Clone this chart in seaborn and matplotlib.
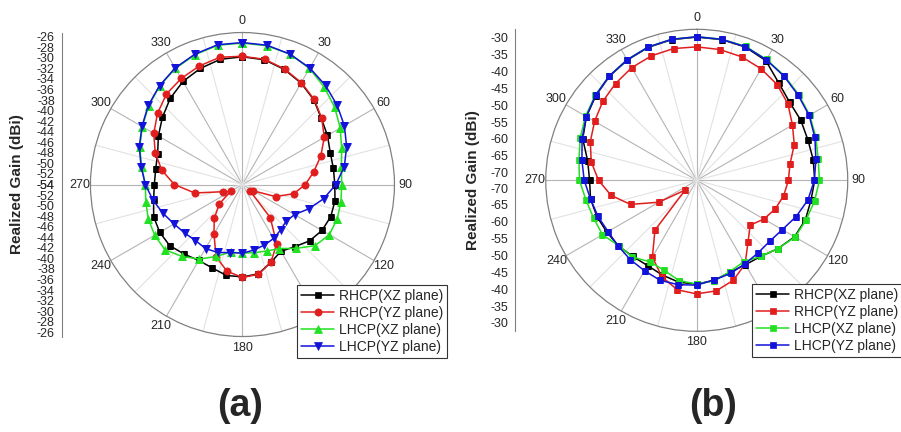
# polar gain patterns, two panels (a) and (b)

import numpy as np
import pandas as pd
import seaborn as sns
import matplotlib.pyplot as plt

# angles in degrees, 10 deg steps
ang = list(range(0, 360, 10))

# ---- panel (a) values (dBi) ----
a_rhcp_xz = [-29.8, -30.0, -30.8, -31.8, -33.0, -34.5, -35.4, -36.3, -36.5, -36.5,
             -36.2, -36.2, -36.6, -37.4, -38.6, -39.4, -38.3, -36.8, -36.5, -36.5,
             -37.2, -37.4, -36.8, -36.0, -35.9, -36.1, -36.9, -37.3, -37.3, -36.9,
             -35.6, -34.2, -32.7, -31.45, -30.6, -29.9]
a_rhcp_yz = [-29.7, -29.9, -30.7, -31.7, -32.9, -34.4, -36.1, -38.2, -40.3, -42.1,
             -44.1, -47.3, -51.6, -52.1, -45.8, -41.0, -38.3, -36.7, -36.4, -37.3,
             -39.4, -43.2, -45.7, -48.3, -51.4, -50.0, -44.8, -41.1, -38.5, -36.4,
             -34.6, -33.0, -31.6, -30.8, -30.1, -29.5]
a_lhcp_xz = [-27.2, -27.3, -27.7, -28.6, -29.9, -31.2, -32.6, -34.0, -34.95, -35.2,
             -35.05, -34.9, -35.0, -36.0, -38.2, -40.0, -40.6, -40.9, -41.0, -41.0,
             -39.5, -37.7, -36.2, -34.8, -34.8, -35.0, -35.4, -35.6, -34.6, -33.3,
             -32.1, -30.8, -29.6, -28.6, -27.8, -27.2]
a_lhcp_yz = [-27.1, -27.2, -27.7, -28.5, -29.5, -30.6, -31.7, -33.0, -34.4, -36.3,
             -38.4, -40.6, -42.6, -43.2, -42.75, -42.2, -41.8, -41.4, -41.0, -40.9,
             -40.3, -40.0, -40.15, -39.7, -39.05, -38.0, -36.8, -35.6, -34.5, -33.2,
             -32.0, -30.7, -29.55, -28.5, -27.7, -27.1]

# ---- panel (b) values (dBi) ----
b_rhcp_xz = [-29.8, -29.9, -30.2, -31.3, -34.5, -36.3, -36.65, -37.2, -37.2, -37.3,
             -37.9, -38.0, -38.8, -40.8, -42.8, -43.4, -43.3, -42.2, -41.5, -41.6,
             -42.4, -43.1, -42.8, -42.0, -41.5, -40.8, -40.3, -40.5, -39.45, -36.3,
             -34.5, -33.2, -32.0, -31.1, -30.3, -29.9]
b_rhcp_yz = [-32.7, -32.9, -33.3, -34.1, -35.2, -37.0, -39.5, -41.5, -44.2, -45.1,
             -46.1, -47.5, -49.3, -51.6, -48.6, -43.6, -40.7, -39.0, -38.6, -39.3,
             -41.9, -46.0, -53.0, -67.8, -59.3, -51.4, -46.5, -43.15, -40.5, -38.7,
             -37.3, -35.9, -34.8, -33.7, -33.0, -32.6]
b_lhcp_xz = [-29.7, -29.8, -30.0, -30.9, -31.8, -32.8, -33.6, -34.7, -35.7, -35.9,
             -36.8, -37.8, -38.6, -40.8, -42.8, -44.4, -43.5, -42.0, -41.5, -42.1,
             -43.9, -44.4, -42.6, -42.1, -40.0, -39.7, -38.9, -37.5, -36.8, -35.5,
             -34.2, -33.0, -31.9, -31.0, -30.2, -29.8]
b_lhcp_yz = [-29.7, -29.8, -30.1, -31.0, -32.0, -33.0, -33.8, -35.0, -36.4, -37.4,
             -38.8, -40.9, -43.0, -44.1, -44.1, -43.7, -42.9, -42.3, -41.2, -40.85,
             -40.7, -41.3, -41.6, -41.9, -41.9, -41.1, -40.3, -38.9, -37.7, -36.1,
             -34.45, -33.1, -31.9, -31.0, -30.2, -29.8]

labels = ["RHCP(XZ plane)", "RHCP(YZ plane)", "LHCP(XZ plane)", "LHCP(YZ plane)"]
colors = ["#000000", "#e01e1e", "#22e022", "#1212d8"]

# left scale ticks
a_ticks = list(range(-26, -55, -2))
b_ticks = list(range(-30, -71, -5))

sns.set_style("white")
plt.rcParams['font.family'] = ['Liberation Sans', 'DejaVu Sans']

fig = plt.figure(figsize=(9.01, 4.32), dpi=100)


def polar_panel(rect, series, markers, msizes, rmin, rmax):
    ax = fig.add_axes(rect, projection='polar')
    ax.set_theta_zero_location('N')
    ax.set_theta_direction(-1)
    for vals, lab, col, mk, ms in zip(series, labels, colors, markers, msizes):
        df = pd.DataFrame({'theta': np.deg2rad(ang + [360]), 'gain': vals + [vals[0]]})
        sns.lineplot(data=df, x='theta', y='gain', ax=ax, color=col, marker=mk,
                     markersize=ms, mec=col, mfc=col, mew=0.5, lw=1.1, label=lab,
                     legend=False, sort=True)
    ax.set_ylim(rmin, rmax)
    ax.set_yticks([])
    ax.set_xticks(np.deg2rad(np.arange(0, 360, 30)))
    ax.set_xticklabels([str(d) for d in range(0, 360, 30)], fontsize=9)
    ax.set_xticks(np.deg2rad(np.arange(15, 360, 30)), minor=True)
    ax.xaxis.grid(True, which='major', color='#b4b4b4', lw=0.8)
    ax.xaxis.grid(True, which='minor', color='#e2e2e2', lw=0.8)
    ax.tick_params(axis='x', which='major', pad=-3, length=4, color='#777777')
    ax.spines['polar'].set_color('#808080')
    ax.spines['polar'].set_linewidth(0.9)
    ax.set_xlabel('')
    ax.set_ylabel('')
    return ax


def left_scale(x, rect, ticks, rmin, rmax, minor_step, ylab_x):
    sax = fig.add_axes([x, rect[1], 0.0005, rect[3]])
    span = rmax - rmin
    sax.set_ylim(-span, span)
    pos = [t - rmin for t in ticks]
    lab = [str(t) for t in ticks]
    allpos = pos + [-p for p in pos]
    alllab = lab + lab
    sax.set_yticks(allpos)
    sax.set_yticklabels(alllab, fontsize=9)
    mn = np.arange(np.ceil(rmin), rmax, minor_step)
    mpos = [m - rmin for m in mn]
    sax.set_yticks(mpos + [-p for p in mpos], minor=True)
    sax.set_xticks([])
    for s in ['top', 'right', 'bottom']:
        sax.spines[s].set_visible(False)
    sax.spines['left'].set_color('#808080')
    sax.tick_params(axis='y', which='major', length=4, pad=1, color='#808080', direction='out')
    sax.tick_params(axis='y', which='minor', length=2, color='#808080', direction='out')
    fig.text(ylab_x, rect[1] + rect[3] / 2, "Realized Gain (dBi)", rotation=90,
             fontsize=11, fontweight='bold', ha='center', va='center')


rect_a = [0.1004, 0.221, 0.3374, 0.7037]
rect_b = [0.6057, 0.2331, 0.3352, 0.699]

ax_a = polar_panel(rect_a, [a_rhcp_xz, a_rhcp_yz, a_lhcp_xz, a_lhcp_yz],
                   ['s', 'o', '^', 'v'], [4.2, 5.2, 5.2, 5.2], -54, -25.2)
ax_b = polar_panel(rect_b, [b_rhcp_xz, b_rhcp_yz, b_lhcp_xz, b_lhcp_yz],
                   ['s', 's', 's', 's'], [4.2, 4.2, 4.2, 4.2], -72.3, -27.5)

left_scale(0.0685, rect_a, a_ticks, -54, -25.2, 1, 0.019)
left_scale(0.5716, rect_b, b_ticks, -72.3, -27.5, 1, 0.525)

for ax, anchor in [(ax_a, (0.3296, 0.3403)), (ax_b, (0.8346, 0.3426))]:
    h, l = ax.get_legend_handles_labels()
    leg = fig.legend(h, l, loc='upper left', bbox_to_anchor=anchor,
                     bbox_transform=fig.transFigure, borderaxespad=0,
                     fontsize=10, handlelength=2.4, handletextpad=0.3,
                     borderpad=0.3, labelspacing=0.22, fancybox=False,
                     framealpha=1, edgecolor='#333333')
    leg.get_frame().set_linewidth(0.8)

fig.text(240 / 901, 1 - 406 / 432, "(a)", fontsize=27, fontweight='bold',
         ha='center', va='center')
fig.text(713 / 901, 1 - 406 / 432, "(b)", fontsize=27, fontweight='bold',
         ha='center', va='center')

plt.savefig("out.png", dpi=100)
